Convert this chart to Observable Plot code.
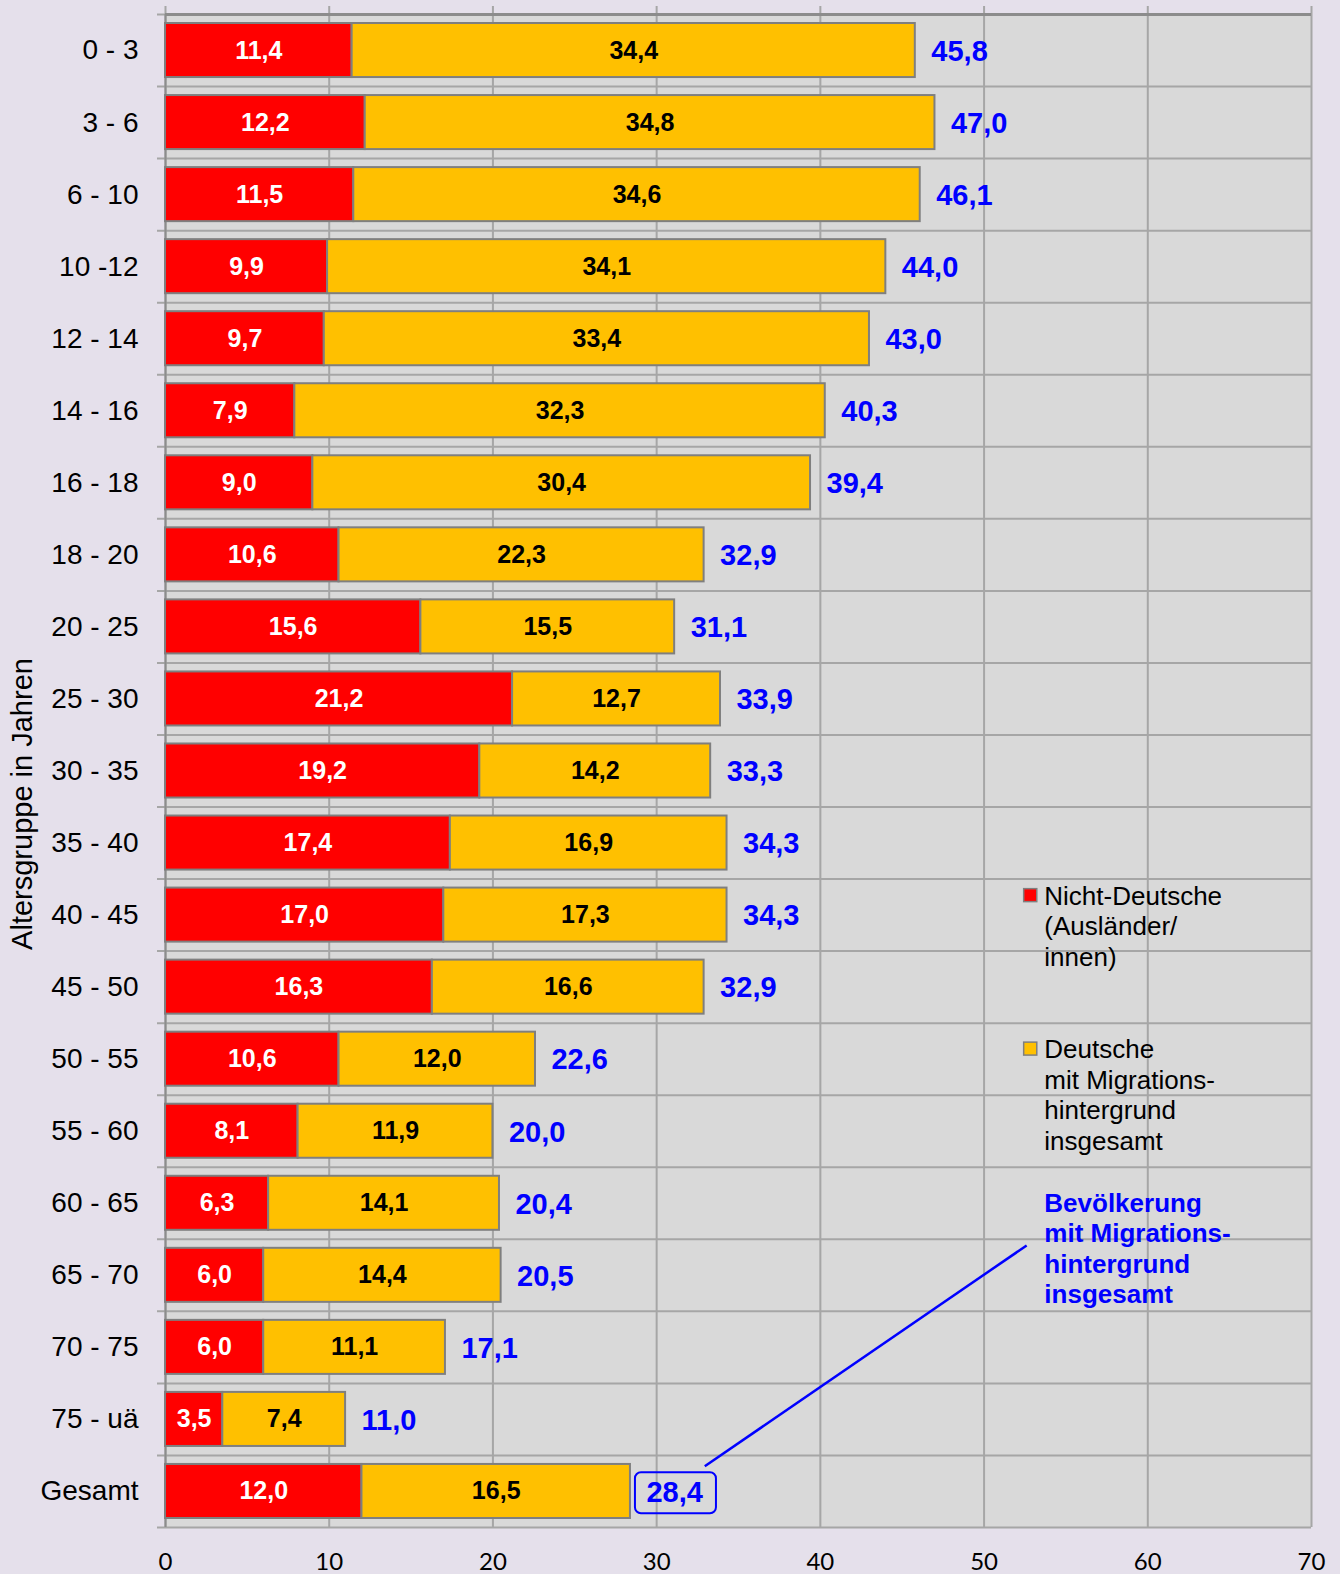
<!DOCTYPE html>
<html>
<head>
<meta charset="utf-8">
<script src="https://cdn.jsdelivr.net/npm/d3@7"></script>
<script src="https://cdn.jsdelivr.net/npm/@observablehq/plot@0.6"></script>
<style>
  html, body { margin: 0; padding: 0; background: #e5e0eb; }
  #chart { width: 1340px; height: 1574px; }
</style>
</head>
<body>
<div id="chart"></div>
<script>
const categories = ["0 - 3","3 - 6","6 - 10","10 -12","12 - 14","14 - 16","16 - 18","18 - 20","20 - 25","25 - 30","30 - 35","35 - 40","40 - 45","45 - 50","50 - 55","55 - 60","60 - 65","65 - 70","70 - 75","75 - uä","Gesamt"];
const nichtDeutsche = [11.4,12.2,11.5,9.9,9.7,7.9,9.0,10.6,15.6,21.2,19.2,17.4,17.0,16.3,10.6,8.1,6.3,6.0,6.0,3.5,12.0];
const deutscheMig   = [34.4,34.8,34.6,34.1,33.4,32.3,30.4,22.3,15.5,12.7,14.2,16.9,17.3,16.6,12.0,11.9,14.1,14.4,11.1,7.4,16.5];
const insgesamt     = [45.8,47.0,46.1,44.0,43.0,40.3,39.4,32.9,31.1,33.9,33.3,34.3,34.3,32.9,22.6,20.0,20.4,20.5,17.1,11.0,28.4];
const xTicks = [0,10,20,30,40,50,60,70];
const yAxisTitle = "Altersgruppe in Jahren";
const legendNicht = "Nicht-Deutsche\n(Ausländer/\ninnen)";
const legendDeutsche = "Deutsche\nmit Migrations-\nhintergrund\ninsgesamt";
const annotationText = "Bevölkerung\nmit Migrations-\nhintergrund\ninsgesamt";

const rows = categories.map((c, i) => ({i, cat: c, red: nichtDeutsche[i], yel: deutscheMig[i], total: insgesamt[i]}));
const fmt = v => v.toFixed(1).replace(".", ",");
const gesamt = rows.filter(d => d.cat === "Gesamt");

const FONT = "'Liberation Sans', Arial, sans-serif";
const TICKFONT = "Lato, 'Open Sans', sans-serif";
const GRID = "#a6a6a6";
const AXIS = "#8c8c8c";
const BARSTROKE = "#7f7f7f";
const BLUE = "#0000ff";

const chart = Plot.plot({
  width: 1340,
  height: 1574,
  marginLeft: 165,
  marginRight: 29,
  marginTop: 14,
  marginBottom: 47,
  style: {background: "transparent", fontFamily: FONT},
  x: {domain: [0, 70], axis: null},
  y: {domain: [0, categories.length], reverse: true, axis: null},
  marks: [
    Plot.frame({fill: "#d9d9d9", stroke: null}),
    Plot.ruleX(xTicks, {y1: 0, y2: categories.length, stroke: GRID, strokeWidth: 2, insetTop: -8}),
    Plot.ruleY(d3.range(categories.length + 1), {x1: 0, x2: 70, stroke: GRID, strokeWidth: 2, insetLeft: -8}),
    Plot.ruleY([0], {x1: 0, x2: 70, stroke: AXIS, strokeWidth: 3}),
    Plot.ruleX([0], {y1: 0, y2: categories.length, stroke: AXIS, strokeWidth: 2}),
    // bars
    Plot.rect(rows, {x1: 0, x2: "red", y1: d => d.i + 0.125, y2: d => d.i + 0.875, fill: "#ff0000", stroke: BARSTROKE, strokeWidth: 2}),
    Plot.rect(rows, {x1: "red", x2: "total", y1: d => d.i + 0.125, y2: d => d.i + 0.875, fill: "#ffc000", stroke: BARSTROKE, strokeWidth: 2}),
    // segment labels
    Plot.text(rows, {x: d => d.red / 2, y: d => d.i + 0.5, text: d => fmt(d.red), fill: "white", fontWeight: "bold", fontSize: 25}),
    Plot.text(rows, {x: d => (d.red + d.total) / 2, y: d => d.i + 0.5, text: d => fmt(d.yel), fill: "black", fontWeight: "bold", fontSize: 25}),
    // total labels
    Plot.text(rows, {x: "total", y: d => d.i + 0.5, text: d => fmt(d.total), dx: 16, dy: 1, textAnchor: "start", fill: BLUE, fontWeight: "bold", fontSize: 29}),
    // box around Gesamt total
    Plot.rect(gesamt, {x1: "total", x2: "total", y1: d => d.i + 0.24, y2: d => d.i + 0.81, insetLeft: 5, insetRight: -86, fill: "none", stroke: BLUE, strokeWidth: 2, rx: 6}),
    // y category labels
    Plot.text(rows, {x: 0, y: d => d.i + 0.5, text: "cat", dx: -27, textAnchor: "end", fill: "black", fontSize: 28}),
    // x tick labels
    Plot.text(xTicks, {x: d => d, y: categories.length, text: d => String(d), dy: 35, fill: "black", fontSize: 24, fontFamily: TICKFONT}),
    // y axis title
    Plot.text([yAxisTitle], {frameAnchor: "left", text: d => d, rotate: -90, textAnchor: "middle", dx: -143, dy: 33, fill: "black", fontSize: 29}),
    // legend
    Plot.rect([0], {x1: 52.45, x2: 53.25, y1: 12.14, y2: 12.32, fill: "#ff0000", stroke: BARSTROKE, strokeWidth: 1.5}),
    Plot.text([legendNicht], {x: 53.68, y: 12.06, text: d => d, textAnchor: "start", lineAnchor: "top", lineHeight: 1.17, fill: "black", fontSize: 26}),
    Plot.rect([0], {x1: 52.45, x2: 53.25, y1: 14.27, y2: 14.45, fill: "#ffc000", stroke: BARSTROKE, strokeWidth: 1.5}),
    Plot.text([legendDeutsche], {x: 53.68, y: 14.19, text: d => d, textAnchor: "start", lineAnchor: "top", lineHeight: 1.17, fill: "black", fontSize: 26}),
    // annotation
    Plot.text([annotationText], {x: 53.68, y: 16.32, text: d => d, textAnchor: "start", lineAnchor: "top", lineHeight: 1.17, fill: BLUE, fontWeight: "bold", fontSize: 26}),
    Plot.link([0], {x1: 52.6, y1: 17.085, x2: 32.94, y2: 20.15, stroke: BLUE, strokeWidth: 2.5})
  ]
});
document.getElementById("chart").appendChild(chart);
</script>
</body>
</html>
